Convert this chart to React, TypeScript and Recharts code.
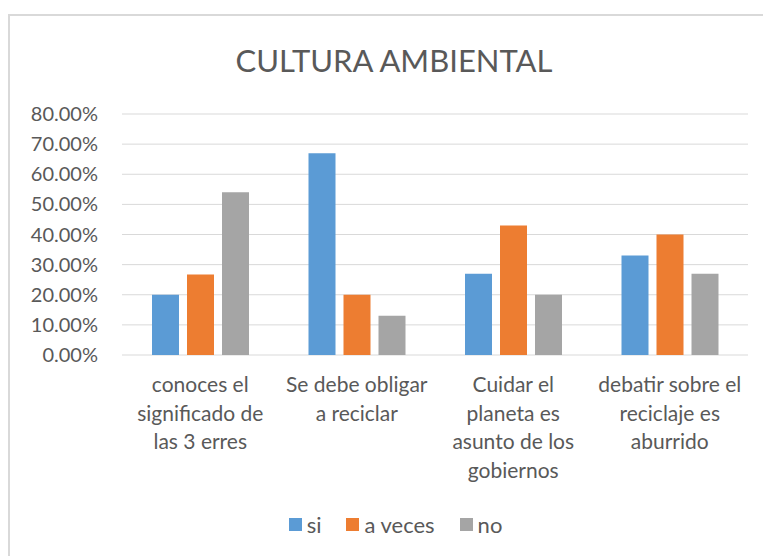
import { BarChart, Bar, XAxis, YAxis, CartesianGrid, Legend } from 'recharts';

const categories = [
  'conoces el\nsignificado de\nlas 3 erres',
  'Se debe obligar\na reciclar',
  'Cuidar el\nplaneta es\nasunto de los\ngobiernos',
  'debatir sobre el\nreciclaje es\naburrido',
];
const siValues = [0.2, 0.67, 0.27, 0.33];
const aVecesValues = [0.267, 0.2, 0.43, 0.4];
const noValues = [0.54, 0.13, 0.2, 0.27];
const yTicks = [0, 0.1, 0.2, 0.3, 0.4, 0.5, 0.6, 0.7, 0.8];

const series = [
  { key: 'si', name: 'si', color: '#5B9BD5' },
  { key: 'aVeces', name: 'a veces', color: '#ED7D31' },
  { key: 'no', name: 'no', color: '#A5A5A5' },
];

const data = categories.map((c, i) => ({
  name: c,
  si: siValues[i],
  aVeces: aVecesValues[i],
  no: noValues[i],
}));

const FONT = 'Lato, "Noto Sans", sans-serif';
const TEXT = '#595959';

function CategoryTick({ x, y, payload }: any) {
  const lines = String(payload.value).split('\n');
  return (
    <text x={x} y={y} textAnchor="middle" fill={TEXT} fontSize={21} fontFamily={FONT}>
      {lines.map((l, i) => (
        <tspan key={i} x={x} dy={i === 0 ? 29 : 28.5}>
          {l}
        </tspan>
      ))}
    </text>
  );
}

function LegendContent() {
  return (
    <div style={{ display: 'flex', justifyContent: 'center', gap: 25, paddingLeft: 28, fontFamily: FONT, fontSize: 22, color: TEXT }}>
      {series.map((s) => (
        <div key={s.key} style={{ display: 'flex', alignItems: 'center' }}>
          <span style={{ display: 'inline-block', width: 13, height: 13, background: s.color, marginRight: 5 }} />
          <span>{s.name}</span>
        </div>
      ))}
    </div>
  );
}

export default function App() {
  return (
    <div style={{ position: 'absolute', left: 0, top: 0, width: 763, height: 556, overflow: 'hidden', background: '#fff' }}>
      <div
        style={{
          position: 'absolute',
          left: 8,
          top: 14,
          width: 800,
          height: 600,
          border: '2px solid #D9D9D9',
        }}
      />
      <div
        style={{
          position: 'absolute',
          left: 0,
          width: 788,
          top: 40,
          textAlign: 'center',
          fontFamily: FONT,
          fontSize: 31,
          color: TEXT,
          lineHeight: '40px',
        }}
      >
        CULTURA AMBIENTAL
      </div>
      <div style={{ position: 'absolute', left: 0, top: 0 }}>
        <BarChart
          width={763}
          height={556}
          data={data}
          margin={{ top: 114, right: 15, bottom: 0, left: 0 }}
          barSize={27}
          barGap={8}
        >
          <CartesianGrid vertical={false} stroke="#D9D9D9" strokeWidth={1} />
          <XAxis
            dataKey="name"
            height={201}
            axisLine={false}
            tickLine={false}
            interval={0}
            tick={<CategoryTick />}
          />
          <YAxis
            width={122}
            domain={[0, 0.8]}
            ticks={yTicks}
            axisLine={false}
            tickLine={false}
            tickSize={0}
            tickMargin={24}
            tickFormatter={(v: number) => (v * 100).toFixed(2) + '%'}
            tick={{ fill: TEXT, fontSize: 20, fontFamily: FONT }}
          />
          <Legend
            verticalAlign="middle"
            align="center"
            wrapperStyle={{ top: 511, left: 0, width: 763 }}
            content={<LegendContent />}
          />
          {series.map((s) => (
            <Bar key={s.key} dataKey={s.key} name={s.name} fill={s.color} isAnimationActive={false} />
          ))}
        </BarChart>
      </div>
    </div>
  );
}
